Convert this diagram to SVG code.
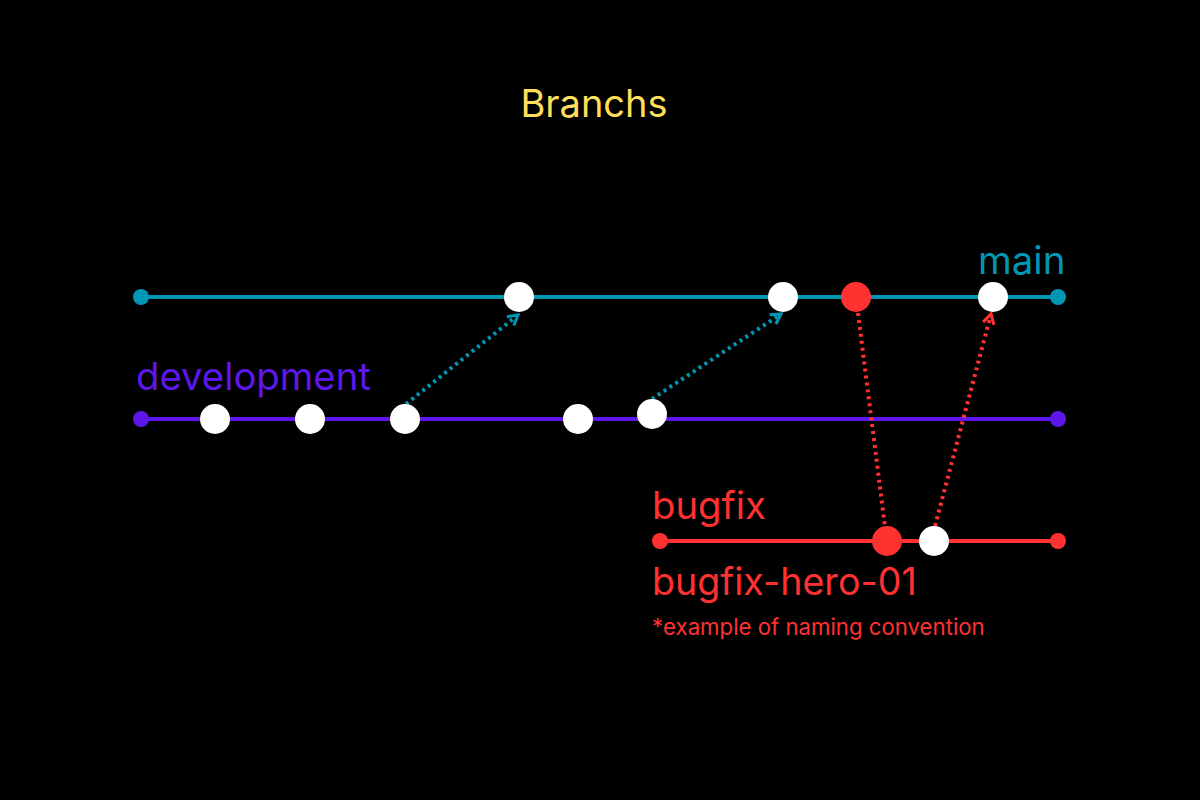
<svg xmlns="http://www.w3.org/2000/svg" width="1200" height="800" viewBox="0 0 1200 800">
<defs>
<style>
text{font-family:Inter,"Liberation Sans",sans-serif}
.w{fill:#fff}
.lm{stroke:#0097B2;stroke-width:4}
.ld{stroke:#5E17EB;stroke-width:4}
.lb{stroke:#FF3131;stroke-width:4}
.dm{stroke:#0097B2;stroke-width:4;stroke-dasharray:3 4;fill:none}
.db{stroke:#FF3131;stroke-width:4;stroke-dasharray:3 4;fill:none}
</style>
<marker id="am" viewBox="0 0 10 10" refX="8" refY="5" markerWidth="3.5" markerHeight="3.5" orient="auto" markerUnits="strokeWidth"><path d="M1,1 L8,5 L1,9" fill="none" stroke="#0097B2" stroke-width="2.2"/></marker>
<marker id="ab" viewBox="0 0 10 10" refX="8" refY="5" markerWidth="3.5" markerHeight="3.5" orient="auto" markerUnits="strokeWidth"><path d="M1,1 L8,5 L1,9" fill="none" stroke="#FF3131" stroke-width="2.2"/></marker>
</defs>
<rect width="1200" height="800" fill="#000"/>
<text x="594" y="117" font-size="38" fill="#FFDE59" text-anchor="middle">Branchs</text>
<g id="lines">
<line class="lm" x1="141" y1="297" x2="1058" y2="297"/>
<line class="ld" x1="141" y1="419" x2="1058" y2="419"/>
<line class="lb" x1="660" y1="541" x2="1058" y2="541"/>
</g>
<g id="connectors">
<line class="dm" x1="406" y1="404" x2="518" y2="315" marker-end="url(#am)"/>
<line class="dm" x1="652" y1="399" x2="781" y2="314" marker-end="url(#am)"/>
<line class="db" x1="858" y1="313" x2="885" y2="527"/>
<line class="db" x1="935" y1="526" x2="991" y2="314" marker-end="url(#ab)"/>
</g>
<g id="main">
<circle cx="141" cy="297" r="8" fill="#0097B2"/>
<circle cx="1058" cy="297" r="8" fill="#0097B2"/>
<circle class="w" cx="519" cy="297" r="15"/>
<circle class="w" cx="783" cy="297" r="15"/>
<circle cx="856" cy="297" r="15" fill="#FF3131"/>
<circle class="w" cx="993" cy="297" r="15"/>
<text x="978" y="274" font-size="38.5" fill="#0097B2">main</text>
</g>
<g id="development">
<circle cx="141" cy="419" r="8" fill="#5E17EB"/>
<circle cx="1058" cy="419" r="8" fill="#5E17EB"/>
<circle class="w" cx="215" cy="419" r="15"/>
<circle class="w" cx="310" cy="419" r="15"/>
<circle class="w" cx="405" cy="419" r="15"/>
<circle class="w" cx="578" cy="419" r="15"/>
<circle class="w" cx="652" cy="414" r="15"/>
<text x="136" y="390" font-size="38.3" fill="#5E17EB">development</text>
</g>
<g id="bugfix">
<circle cx="660" cy="541" r="8" fill="#FF3131"/>
<circle cx="1058" cy="541" r="8" fill="#FF3131"/>
<circle cx="887" cy="541" r="15" fill="#FF3131"/>
<circle class="w" cx="934" cy="541" r="15"/>
<text x="652" y="519" font-size="38.3" fill="#FF3131">bugfix</text>
<text x="652" y="595" font-size="37.6" fill="#FF3131">bugfix-hero-01</text>
<text x="652" y="635" font-size="22.2" fill="#FF3131">*example of naming convention</text>
</g>
</svg>
